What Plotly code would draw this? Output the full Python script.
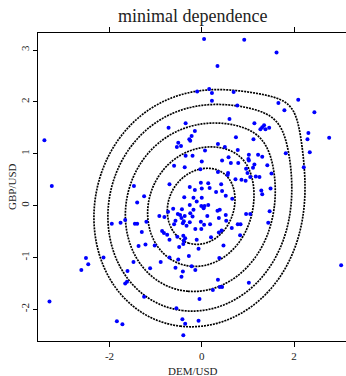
import math
import numpy as np
import plotly.graph_objects as go

# ---- data ----
dem_usd = [0.05, 0.92, 1.62, 0.34, 0.16, -0.10, 0.22, 0.69, 0.22, 0.77,
           1.66, 1.79, 2.09, 2.44, -3.41, 0.60, -0.35, -0.72, -0.15, -0.22,
           -0.27, -0.25, 0.74, 1.14, 1.35, 1.31, 1.27, 1.38, 1.46, 2.31,
           2.76, 2.29, 1.12, -0.51, -0.54, 0.35, -0.45, 0.50, -0.35, -0.20,
           0.07, 0.78, 0.00, 0.44, 0.58, 0.63, 0.79, -0.60, -0.37, -0.03,
           0.35, 0.57, 0.56, 0.73, 0.86, -0.70, -0.02, 0.14, 0.42, -1.25,
           -0.26, 0.00, 0.17, -0.15, 0.31, 0.44, 0.52, -0.38, -0.18, 0.00,
           0.66, -0.11, 1.82, 2.34, 1.02, 1.22, 1.31, 1.01, 1.02, 1.14,
           1.11, 1.42, 0.96, 0.99, 1.51, 2.21, 1.05, 1.17, 1.25, 0.95,
           1.49, 1.29, 1.31, -3.25, -1.47, -1.40, -1.95, -1.76, -1.66, -1.45,
           -1.40, -1.30, -0.26, -0.01, 0.06, 0.14, 0.04, 0.39, 0.34, -0.62,
           -0.43, -0.18, -0.25, -0.73, -0.52, -0.47, -0.37, -0.92, -0.81, -0.57,
           -0.44, -0.39, -0.20, -0.26, -0.02, 0.12, 0.37, 0.53, 0.78, 0.52,
           -1.20, -0.41, -0.60, -0.33, -0.14, -0.01, 0.05, 0.18, 0.65, 0.84,
           -0.82, -0.75, -0.86, -0.53, -0.40, -0.36, -0.11, 0.20, 0.37, 0.83,
           0.43, 1.47, 0.96, 1.05, 1.44, -1.22, -1.02, -0.70, -0.49, -0.40,
           -0.39, -0.07, 0.47, -0.28, -0.70, -0.51, -0.89, 0.38, -0.22, -0.14,
           -0.57, -0.41, -1.12, -0.44, 0.35, 0.24, 0.39, 0.44, -1.25, -0.05,
           -0.55, -0.42, -0.36, -0.07, -0.40, -1.37, -2.51, -2.46, -2.61, -2.13,
           -1.48, -1.61, -1.62, -1.66, -3.30, -1.84, -1.72, 1.02, 3.02]
gbp_usd = [3.21, 3.20, 2.95, 2.69, 2.25, 2.20, 2.17, 2.19, 2.02, 1.93,
           1.98, 1.84, 2.04, 1.80, 1.26, 1.67, 1.59, 1.50, 1.44, 1.34,
           1.28, 1.25, 1.32, 1.59, 1.55, 1.51, 1.47, 1.47, 1.50, 1.40,
           1.31, 1.28, 1.28, 1.21, 1.13, 1.19, 1.15, 1.13, 0.96, 0.96,
           1.06, 1.07, 0.85, 0.87, 0.93, 0.82, 0.82, 0.77, 0.74, 0.70,
           0.65, 0.63, 0.59, 0.51, 0.50, 0.41, 0.44, 0.43, 0.41, 0.18,
           0.36, 0.33, 0.34, 0.30, 0.26, 0.28, 0.19, 0.16, 0.15, 0.15,
           0.13, 0.08, 1.01, 1.03, 0.98, 0.98, 0.94, 0.90, 0.87, 0.79,
           0.73, 0.78, 0.71, 0.63, 0.62, 0.74, 0.55, 0.56, 0.55, 0.48,
           0.33, 0.29, 0.22, 0.38, 0.38, 0.06, -0.35, -0.33, -0.28, -0.35,
           -0.35, -0.51, 0.01, -0.01, -0.01, 0.01, -0.05, -0.08, -0.10, -0.06,
           -0.07, -0.08, -0.15, -0.12, -0.16, -0.18, -0.20, -0.20, -0.22, -0.29,
           -0.24, -0.30, -0.21, -0.32, -0.31, -0.20, -0.24, -0.29, -0.36, -0.18,
           -0.31, -0.34, -0.36, -0.39, -0.45, -0.45, -0.37, -0.36, -0.43, -0.36,
           -0.53, -0.56, -0.49, -0.60, -0.58, -0.63, -0.66, -0.61, -0.52, -0.57,
           -0.48, -0.11, -0.16, -0.16, -0.33, -0.75, -0.77, -0.66, -0.80, -0.74,
           -0.68, -0.83, -0.77, -0.97, -1.00, -1.04, -1.09, -1.01, -1.17, -1.24,
           -1.20, -1.27, -1.21, -1.37, -1.43, -1.63, -1.57, -1.57, -1.76, -1.80,
           -1.98, -2.19, -2.28, -2.22, -2.50, -0.78, -1.01, -1.13, -1.24, -1.00,
           -1.09, -1.26, -1.47, -1.50, -1.85, -2.23, -2.29, -1.49, -1.15]

x_tick_vals = [-2, 0, 2]
x_tick_text = ["-2", "0", "2"]
y_tick_vals = [-2, -1, 0, 1, 2, 3]
y_tick_text = ["-2", "-1", "0", "1", "2", "3"]

# where each of the five contour lines crosses the axes
contour_top = [0.72, 1.15, 1.59, 1.96, 2.23]        # on DEM/USD = 0, above
contour_bottom = [-0.75, -1.15, -1.64, -2.01, -2.34]  # on DEM/USD = 0, below
contour_right = [0.70, 1.10, 1.55, 1.91, 2.17]     # on GBP/USD = 0, right
contour_left = [-0.73, -1.16, -1.66, -2.03, -2.35]  # on GBP/USD = 0, left
gumbel_theta = 1.1

_erf = np.vectorize(math.erf)


def norm_cdf(a):
    a = np.asarray(a, dtype=float)
    return 0.5 * (1.0 + _erf(a / math.sqrt(2.0)))


def norm_pdf(a):
    a = np.asarray(a, dtype=float)
    return np.exp(-0.5 * a * a) / math.sqrt(2.0 * math.pi)


def density(x, y, th):
    x = np.asarray(x, dtype=float)
    y = np.asarray(y, dtype=float)
    u = np.clip(norm_cdf(x), 1e-12, 1 - 1e-12)
    v = np.clip(norm_cdf(y), 1e-12, 1 - 1e-12)
    lx = -np.log(u)
    ly = -np.log(v)
    A = lx ** th + ly ** th
    C = np.exp(-A ** (1.0 / th))
    c = C / (u * v) * (lx * ly) ** (th - 1.0) * A ** (2.0 / th - 2.0) * \
        (1.0 + (th - 1.0) * A ** (-1.0 / th))
    return c * norm_pdf(x) * norm_pdf(y)


gx = np.linspace(-3.7, 3.3, 281)
gy = np.linspace(-2.8, 3.5, 253)
Z = density(gx[None, :], gy[:, None], gumbel_theta)

levels = []
for k in range(5):
    px = np.array([0.0, 0.0, contour_right[k], contour_left[k]])
    py = np.array([contour_top[k], contour_bottom[k], 0.0, 0.0])
    f = density(px, py, gumbel_theta)
    levels.append(float(np.exp(np.mean(np.log(f)))))

fig = go.Figure()
for lv in levels:
    fig.add_trace(go.Contour(
        x=gx, y=gy, z=Z, autocontour=False,
        contours=dict(start=lv, end=lv, size=1.0, coloring="none", showlabels=False),
        line=dict(color="black", width=1.7, dash="2px,1px"),
        showscale=False, hoverinfo="skip"))

fig.add_trace(go.Scatter(
    x=dem_usd, y=gbp_usd, mode="markers",
    marker=dict(color="#0000ff", size=4, line=dict(width=0)),
    hoverinfo="skip"))

font_family = "Liberation Serif"
W, H = 346, 376
L, R, T, B = 38, 0, 33, 35
pw = W - L - R
ph = H - T - B

fig.update_layout(
    width=W, height=H,
    margin=dict(l=L, r=R, t=T, b=B, pad=0),
    paper_bgcolor="white", plot_bgcolor="white",
    showlegend=False,
    font=dict(family=font_family, color="#222222", size=11),
    xaxis=dict(range=[-3.549, 3.125], tickvals=x_tick_vals, ticktext=x_tick_text,
               showgrid=False, zeroline=False, showline=True, linecolor="black",
               linewidth=1, mirror="ticks", ticks="outside", ticklen=5,
               tickcolor="black", tickwidth=1,
               tickfont=dict(family=font_family, size=11, color="#222222")),
    yaxis=dict(range=[-2.611, 3.328], tickvals=y_tick_vals, ticktext=y_tick_text,
               showgrid=False, zeroline=False, showline=True, linecolor="black",
               linewidth=1, ticks="outside", ticklen=4, tickcolor="black",
               tickwidth=1, tickangle=-90,
               tickfont=dict(family=font_family, size=11, color="#222222")),
    annotations=[
        dict(text="minimal dependence", xref="paper", yref="paper",
             x=(192 - L) / pw, y=(H - B - 16.5) / ph, xanchor="center",
             yanchor="middle", showarrow=False,
             font=dict(family=font_family, size=18, color="#222222")),
        dict(text="DEM/USD", xref="paper", yref="paper",
             x=(192.5 - L) / pw, y=(H - B - 371) / ph, xanchor="center",
             yanchor="middle", showarrow=False,
             font=dict(family=font_family, size=11, color="#222222")),
        dict(text="GBP/USD", xref="paper", yref="paper",
             x=(12 - L) / pw, y=0.5, xanchor="center", yanchor="middle",
             textangle=-90, showarrow=False,
             font=dict(family=font_family, size=11, color="#222222")),
    ],
)

fig.write_html("out.html")
